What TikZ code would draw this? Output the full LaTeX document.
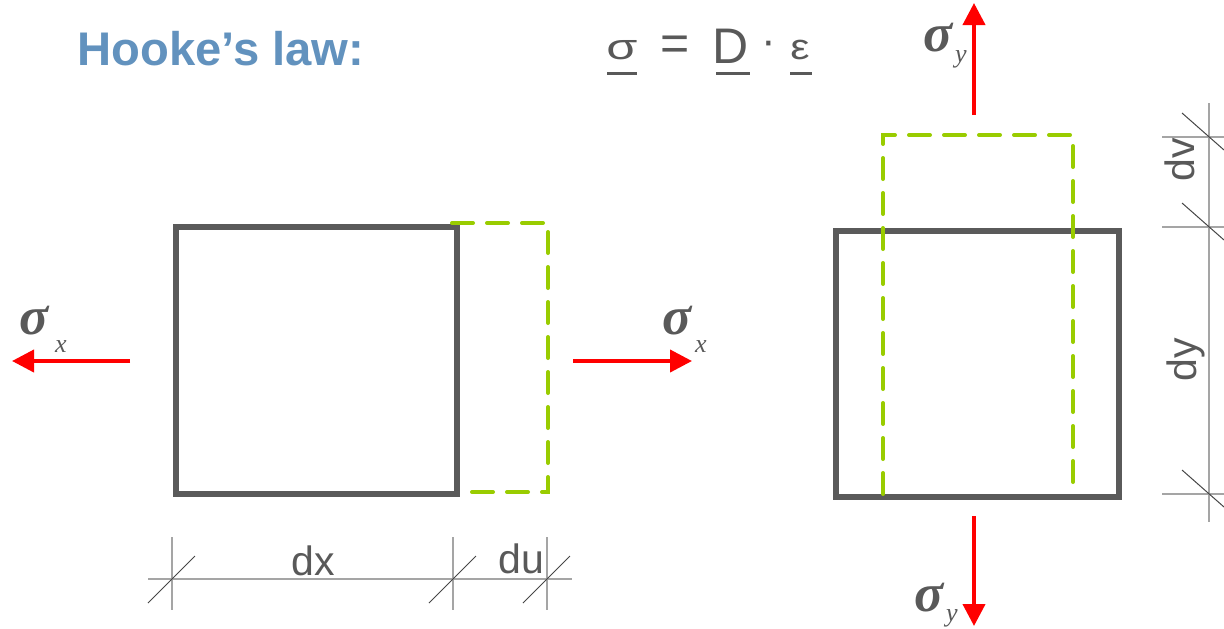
\documentclass[tikz,border=0pt]{standalone}
\usepackage{fontspec}
\usepackage{graphicx}
\setmainfont{Liberation Sans}
\newfontfamily\tnr{Liberation Serif}
\usetikzlibrary{arrows.meta}
\definecolor{boxgray}{RGB}{90,90,90}
\definecolor{strain}{RGB}{153,204,0}
\definecolor{forcered}{RGB}{255,0,0}
\definecolor{titleblue}{RGB}{98,146,190}
\definecolor{dimgray}{RGB}{165,165,165}
\definecolor{dimdark}{RGB}{70,70,70}
\definecolor{txtgray}{RGB}{89,89,89}
\begin{document}
\begin{tikzpicture}[x=0.5pt,y=-0.5pt,
  solidbox/.style={draw=boxgray, line width=3pt},
  strainline/.style={draw=strain, line width=2pt, line cap=round, dash pattern=on 10.5pt off 7pt},
  force/.style={draw=forcered, line width=2pt, -{Triangle[length=11pt,width=11pt]}},
  sig/.style={font=\tnr\bfseries\itshape\fontsize{27}{30}\selectfont, text=txtgray, inner sep=0pt},
  sub/.style={font=\tnr\itshape\fontsize{13}{15}\selectfont, text=txtgray, inner sep=0pt},
  dimline/.style={draw=dimgray, line width=1pt},
  tickmark/.style={draw=dimdark, line width=0.5pt},
  dimlabel/.style={font=\fontsize{20.5}{24}\selectfont, text=txtgray, inner sep=0pt},
  formula/.style={text=txtgray, inner sep=0pt},
  uline/.style={draw=txtgray, line width=1.5pt},
]
\useasboundingbox (0,0) rectangle (1224,628);

% title and formula
\node[anchor=base west, font=\bfseries\fontsize{23.6}{27}\selectfont, text=titleblue, inner sep=0pt] (title) at (77,65) {Hooke’s law:};
\node[formula, anchor=base, font=\fontsize{18}{22}\selectfont] (fsig) at (622,59) {\scalebox{1.4}[1]{σ}};
\node[formula, font=\fontsize{25}{30}\selectfont] (feq) at (675,48) {=};
\node[formula, anchor=base, font=\fontsize{25}{30}\selectfont] (fD) at (731,63) {D};
\node[formula, font=\fontsize{22}{30}\selectfont] (fdot) at (769,48) {·};
\node[formula, anchor=base, font=\fontsize{18}{22}\selectfont] (feps) at (800,59) {\scalebox{1.2}[1]{ε}};
\draw[uline] (607,73) -- (637,73);
\draw[uline] (716,73) -- (750,73);
\draw[uline] (790,73) -- (812,73);

% left element
\draw[solidbox] (176,227) rectangle (457,494);
\draw[strainline] (452,223) -- (548,223) -- (548,492) -- (459,492);

\coordinate (lxs) at (130,361); \coordinate (lxe) at (12,361);
\coordinate (rxs) at (573,361); \coordinate (rxe) at (692,361);
\draw[force] (lxs) -- (lxe);
\draw[force] (rxs) -- (rxe);
\node[sig] (sxl) at (34,321) {σ};
\node[sub] (sxlsub) at (61,347) {x};
\node[sig] (sxr) at (677,321) {σ};
\node[sub] (sxrsub) at (701,347) {x};

% bottom dimension
\coordinate (bd1) at (148,579); \coordinate (bd2) at (572,579);
\draw[dimline] (bd1) -- (bd2);
\foreach \xx in {172,453,547}{
  \draw[dimline] (\xx,537) -- (\xx,610);
  \draw[tickmark] (\xx-24,603) -- (\xx+23,556);
}
\node[dimlabel, anchor=base] (ldx) at (313,575) {dx};
\node[dimlabel, anchor=base] (ldu) at (521,573) {du};

% right element
\draw[solidbox] (836,231) rectangle (1119,497);
\draw[strainline] (883,494) -- (883,135) -- (1073,135) -- (1073,494);

\coordinate (tys) at (974,115); \coordinate (tye) at (974,3);
\coordinate (bys) at (974,516); \coordinate (bye) at (974,626);
\draw[force] (tys) -- (tye);
\draw[force] (bys) -- (bye);
\node[sig] (syt) at (938,38) {σ};
\node[sub] (sytsub) at (961,59) {y};
\node[sig] (syb) at (929,598) {σ};
\node[sub] (sybsub) at (952,618) {y};

% right dimension
\coordinate (rd1) at (1209,103); \coordinate (rd2) at (1209,522);
\draw[dimline] (rd1) -- (rd2);
\foreach \yy in {137,227,494}{
  \draw[dimline] (1162,\yy) -- (1224,\yy);
  \draw[tickmark] (1182,\yy-24) -- (1224,\yy+13);
}
\node[dimlabel, rotate=90, anchor=base] (ldv) at (1194,160) {dv};
\node[dimlabel, rotate=90, anchor=base] (ldy) at (1196,360) {dy};
\end{tikzpicture}
\end{document}
